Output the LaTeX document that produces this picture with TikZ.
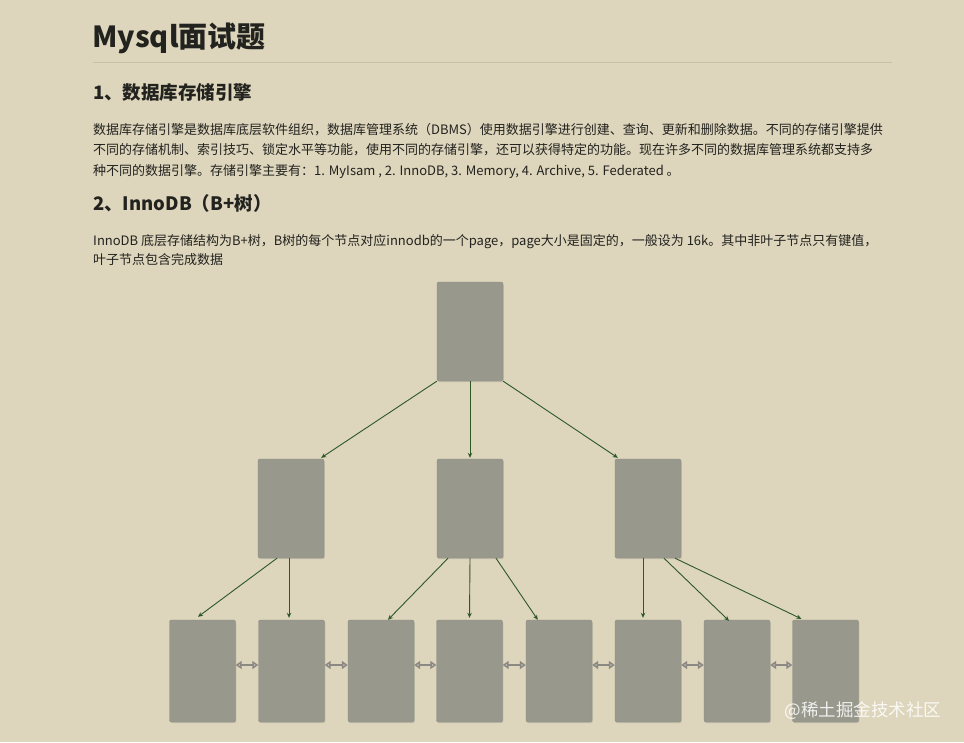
\documentclass[tikz,border=0pt]{standalone}
\usepackage{fontspec}
\setmainfont{Noto Sans CJK SC}
\usetikzlibrary{arrows.meta,shadows}
\definecolor{bgc}{RGB}{221,213,188}
\definecolor{boxc}{RGB}{152,153,140}
\definecolor{arrc}{RGB}{45,88,40}
\definecolor{linkc}{RGB}{140,136,130}
\definecolor{txtc}{RGB}{34,34,30}
\definecolor{rulec}{RGB}{200,191,168}
\tikzset{
  page/.style={boxc, fill=boxc, draw=boxc!92!black, line width=0.4pt, rounded corners=2pt,
    minimum width=66pt, drop shadow={opacity=0.25, shadow xshift=0.8pt, shadow yshift=-1.2pt}},
  inner/.style={page, minimum height=99pt},
  leaf/.style={page, minimum height=102pt},
  tarr/.style={arrc, line width=0.9pt, -{Stealth[length=5pt,width=4.5pt]}},
  link/.style={linkc, line width=1.6pt, {Triangle[length=6pt,width=8pt,fill=linkc!45]}-{Triangle[length=6pt,width=8pt,fill=linkc!45]}},
  bodytext/.style={anchor=base west, inner sep=0pt, font=\fontsize{13}{15}\selectfont, text=txtc},
  headtext/.style={anchor=base west, inner sep=0pt, font=\fontsize{18.5}{20}\selectfont\bfseries, text=txtc},
}
\begin{document}
\begin{tikzpicture}[x=1pt,y=-1pt]
\fill[bgc] (0,0) rectangle (964,742);
\useasboundingbox (0,0) rectangle (964,742);
% texts
\node[anchor=base west, inner sep=0pt, font=\fontsize{29}{30}\selectfont\bfseries, text=txtc] (title) at (92,47) {Mysql面试题};
\draw[rulec, line width=1pt] (93,62) coordinate (r1) -- (892,62) coordinate (r2);
\node[headtext] (h1) at (93,99) {1、数据库存储引擎};
\node[bodytext] (p1) at (93,134) {数据库存储引擎是数据库底层软件组织，数据库管理系统（DBMS）使用数据引擎进行创建、查询、更新和删除数据。不同的存储引擎提供};
\node[bodytext] (p2) at (93,154.5) {不同的存储机制、索引技巧、锁定水平等功能，使用不同的存储引擎，还可以获得特定的功能。现在许多不同的数据库管理系统都支持多};
\node[bodytext] (p3) at (93,175) {种不同的数据引擎。存储引擎主要有：1. MyIsam , 2. InnoDB, 3. Memory, 4. Archive, 5. Federated 。};
\node[headtext] (h2) at (93,210) {2、InnoDB（B+树）};
\node[bodytext] (q1) at (93,245) {InnoDB 底层存储结构为B+树，B树的每个节点对应innodb的一个page，page大小是固定的，一般设为 16k。其中非叶子节点只有键值，};
\node[bodytext] (q2) at (93,264.5) {叶子节点包含完成数据};
% tree nodes
\node[inner] (root) at (470,331.5) {};
\node[inner] (m1) at (291,508.5) {};
\node[inner] (m2) at (470,508.5) {};
\node[inner] (m3) at (648,508.5) {};
\foreach \i/\x in {1/202.5,2/291.5,3/381,4/469.5,5/559,6/648,7/737,8/825.5}
  \node[leaf] (l\i) at (\x,671) {};
% root arrows
\draw[tarr] (root.south west) -- ([xshift=-3pt,yshift=1pt]m1.north east);
\draw[tarr] (root.south) -- ([yshift=1pt]m2.north);
\draw[tarr] (root.south east) -- ([xshift=3pt,yshift=1pt]m3.north west);
% middle arrows
\draw[tarr] ([xshift=-14pt]m1.south) -- ([xshift=-4.5pt,yshift=3pt]l1.north);
\draw[tarr] ([xshift=-2pt]m1.south) -- ([xshift=-2.5pt,yshift=2pt]l2.north);
\draw[tarr] ([xshift=-22pt]m2.south) -- ([xshift=7pt]l3.north);
\draw[tarr] (m2.south) -- ([yshift=2pt]l4.north);
\draw[tarr] ([xshift=26pt]m2.south) -- ([xshift=12pt]l5.north west);
\draw[tarr] ([xshift=-5pt]m3.south) -- ([xshift=-5pt,yshift=2pt]l6.north);
\draw[tarr] ([xshift=16pt]m3.south) -- ([xshift=-8pt,yshift=-1pt]l7.north);
\draw[tarr] ([xshift=27pt]m3.south) -- ([xshift=9pt,yshift=1pt]l8.north west);
% leaf links
\foreach \a/\b in {1/2,2/3,3/4,4/5,5/6,6/7,7/8}
  \draw[link] ([yshift=6pt]l\a.east) -- ([yshift=6pt]l\b.west);
% watermark
\node[anchor=center, inner sep=0pt, font=\fontsize{17.5}{18}\selectfont, text=white, opacity=0.85] (wm) at (863,711) {@稀土掘金技术社区};
\end{tikzpicture}
\end{document}
